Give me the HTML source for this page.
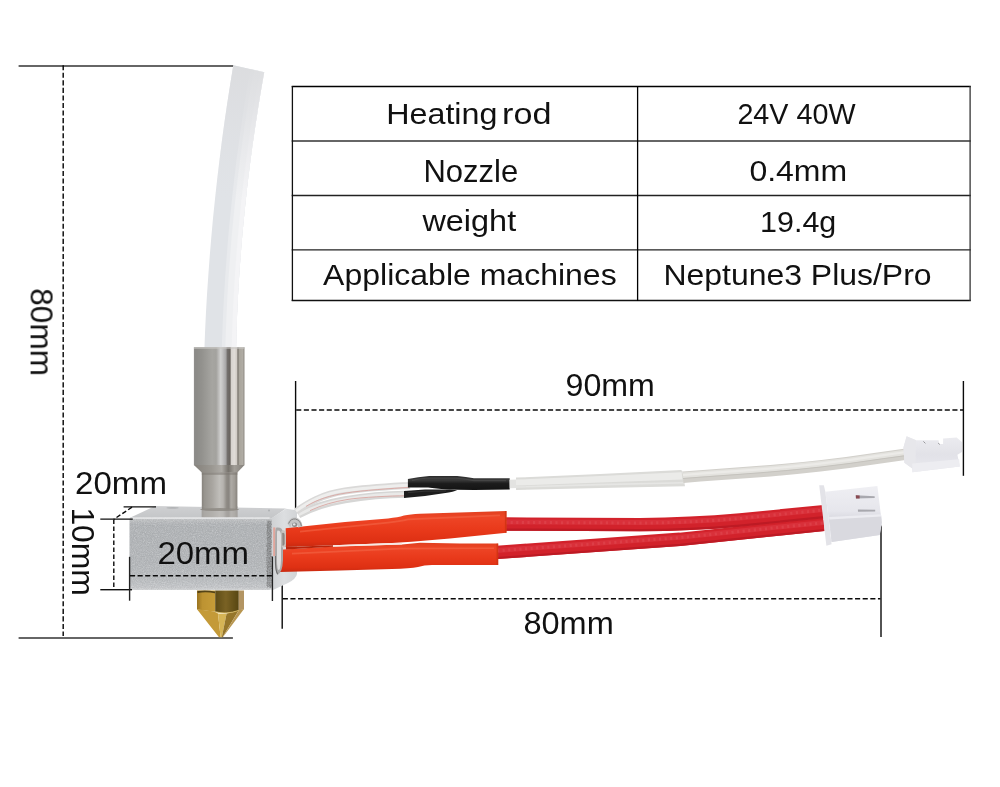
<!DOCTYPE html>
<html>
<head>
<meta charset="utf-8">
<title>Hotend dimensions</title>
<style>
html,body{margin:0;padding:0;background:#fff;}
body{width:1000px;height:787px;overflow:hidden;font-family:"Liberation Sans",sans-serif;}
svg{display:block;}
text{font-family:"Liberation Sans",sans-serif;fill:#111;}
</style>
</head>
<body>
<svg width="1000" height="787" viewBox="0 0 1000 787">
<defs>
<!-- DEFS -->
<filter id="fNoiseD" x="0" y="0" width="100%" height="100%">
  <feTurbulence type="fractalNoise" baseFrequency="0.8" numOctaves="2" seed="11" result="n"/>
  <feColorMatrix in="n" type="matrix" values="0 0 0 0 0.2  0 0 0 0 0.2  0 0 0 0 0.2  1.6 1.6 1.6 0 -2.1" result="w"/>
  <feComposite in="w" in2="SourceGraphic" operator="in"/>
</filter>
<linearGradient id="gTubeTop" gradientUnits="userSpaceOnUse" x1="0" y1="65" x2="0" y2="200">
  <stop offset="0" stop-color="#dbdcde" stop-opacity="0.9"/><stop offset="0.3" stop-color="#dcdde0" stop-opacity="0.7"/>
  <stop offset="0.7" stop-color="#dedfe2" stop-opacity="0.3"/><stop offset="1" stop-color="#e0e1e4" stop-opacity="0"/>
</linearGradient>
<linearGradient id="gSleeve" x1="0" y1="0" x2="0" y2="1">
  <stop offset="0" stop-color="#e0401f"/><stop offset="0.18" stop-color="#ee4526"/>
  <stop offset="0.5" stop-color="#e93a1b"/><stop offset="0.85" stop-color="#de3013"/>
  <stop offset="1" stop-color="#c92a10"/>
</linearGradient>
<linearGradient id="gConn" x1="0" y1="0" x2="0" y2="1">
  <stop offset="0" stop-color="#efeff3"/><stop offset="0.45" stop-color="#e6e6ec"/>
  <stop offset="0.55" stop-color="#dcdce3"/><stop offset="1" stop-color="#e4e4ea"/>
</linearGradient>
<linearGradient id="gConnS" x1="0" y1="0" x2="0" y2="1">
  <stop offset="0" stop-color="#ececf0"/><stop offset="0.5" stop-color="#e2e2e8"/><stop offset="1" stop-color="#e9e9ee"/>
</linearGradient>
<linearGradient id="gBlack" x1="0" y1="0" x2="0" y2="1">
  <stop offset="0" stop-color="#2b2b2b"/><stop offset="0.3" stop-color="#3a3a3a"/>
  <stop offset="0.55" stop-color="#1c1c1c"/><stop offset="1" stop-color="#141414"/>
</linearGradient>
<linearGradient id="gSteel" x1="0" y1="0" x2="1" y2="0">
  <stop offset="0" stop-color="#8f8e8c"/><stop offset="0.04" stop-color="#8b8a87"/>
  <stop offset="0.16" stop-color="#93928e"/><stop offset="0.36" stop-color="#a6a5a1"/>
  <stop offset="0.44" stop-color="#a3a29e"/><stop offset="0.48" stop-color="#b8b7b5"/>
  <stop offset="0.53" stop-color="#d1d1d0"/><stop offset="0.58" stop-color="#bebdbd"/>
  <stop offset="0.63" stop-color="#a7a6a6"/><stop offset="0.665" stop-color="#726e6b"/>
  <stop offset="0.715" stop-color="#69645f"/><stop offset="0.74" stop-color="#d6d2ce"/>
  <stop offset="0.80" stop-color="#e0dcd8"/><stop offset="0.85" stop-color="#cfcac4"/>
  <stop offset="0.868" stop-color="#78736c"/><stop offset="0.90" stop-color="#a9a59c"/>
  <stop offset="0.96" stop-color="#b0aca4"/><stop offset="1" stop-color="#8f8b84"/>
</linearGradient>
<linearGradient id="gSteelLow" x1="0" y1="0" x2="1" y2="0">
  <stop offset="0" stop-color="#87837d"/><stop offset="0.08" stop-color="#98958f"/>
  <stop offset="0.30" stop-color="#a9a6a1"/><stop offset="0.50" stop-color="#c0beba"/>
  <stop offset="0.60" stop-color="#b6b3af"/><stop offset="0.70" stop-color="#8e8a84"/>
  <stop offset="0.76" stop-color="#898580"/><stop offset="0.82" stop-color="#aeaba6"/>
  <stop offset="0.92" stop-color="#a09c96"/><stop offset="1" stop-color="#86827c"/>
</linearGradient>
<linearGradient id="gSteelCh" x1="0" y1="0" x2="1" y2="0">
  <stop offset="0" stop-color="#85817b"/><stop offset="0.35" stop-color="#9a9791"/>
  <stop offset="0.55" stop-color="#aeaba6"/><stop offset="0.68" stop-color="#76726c"/>
  <stop offset="0.8" stop-color="#a19d97"/><stop offset="1" stop-color="#837f79"/>
</linearGradient>
<linearGradient id="gFront" x1="0" y1="0" x2="0" y2="1">
  <stop offset="0" stop-color="#dcddde"/><stop offset="0.03" stop-color="#bdbfc1"/>
  <stop offset="0.10" stop-color="#aeb1b4"/><stop offset="0.6" stop-color="#b1b4b7"/>
  <stop offset="0.86" stop-color="#b8bbbe"/><stop offset="0.965" stop-color="#c3c5c8"/>
  <stop offset="1" stop-color="#d2d4d6"/>
</linearGradient>
<linearGradient id="gTopFace" x1="0" y1="0" x2="0" y2="1">
  <stop offset="0" stop-color="#cfd0d2"/><stop offset="1" stop-color="#c3c5c7"/>
</linearGradient>
<linearGradient id="gSide" x1="0" y1="0" x2="1" y2="0">
  <stop offset="0" stop-color="#cfd1d3"/><stop offset="0.5" stop-color="#dcdee0"/><stop offset="1" stop-color="#d2d4d6"/>
</linearGradient>
<filter id="fNoise" x="0" y="0" width="100%" height="100%">
  <feTurbulence type="fractalNoise" baseFrequency="0.9" numOctaves="2" seed="4" result="n"/>
  <feColorMatrix in="n" type="matrix" values="0 0 0 0 1  0 0 0 0 1  0 0 0 0 1  0.9 0.9 0.9 0 -1.15" result="w"/>
  <feComposite in="w" in2="SourceGraphic" operator="in"/>
</filter>
<linearGradient id="gBrassL" x1="0" y1="0" x2="1" y2="0">
  <stop offset="0" stop-color="#9a7420"/><stop offset="0.3" stop-color="#bd9332"/><stop offset="1" stop-color="#c69c38"/>
</linearGradient>
<linearGradient id="gBrassM" x1="0" y1="0" x2="1" y2="0">
  <stop offset="0" stop-color="#5d4b15"/><stop offset="0.45" stop-color="#7a6224"/><stop offset="1" stop-color="#574612"/>
</linearGradient>
<linearGradient id="gBrassCone" x1="0" y1="0" x2="1" y2="0">
  <stop offset="0" stop-color="#b48a2a"/><stop offset="0.35" stop-color="#d0a848"/>
  <stop offset="0.55" stop-color="#d9b860"/><stop offset="0.68" stop-color="#b08a30"/>
  <stop offset="0.8" stop-color="#8a6a22"/><stop offset="1" stop-color="#a8883a"/>
</linearGradient>
</defs>
<rect x="0" y="0" width="1000" height="787" fill="#ffffff"/>

<!-- TABLE -->
<g id="table" stroke="#1a1a1a" stroke-width="1.3" fill="none">
  <line x1="291.7" y1="86.5" x2="970.8" y2="86.5" stroke="#000"/>
  <line x1="291.7" y1="141" x2="970.8" y2="141" stroke="#333"/>
  <line x1="291.7" y1="195.5" x2="970.8" y2="195.5" stroke="#222"/>
  <line x1="291.7" y1="249.8" x2="970.8" y2="249.8" stroke="#222"/>
  <line x1="291.7" y1="300.5" x2="970.8" y2="300.5" stroke="#111"/>
  <line x1="292.4" y1="86" x2="292.4" y2="301" stroke="#111"/>
  <line x1="637.6" y1="86" x2="637.6" y2="301" stroke="#000"/>
  <line x1="970.1" y1="86" x2="970.1" y2="301" stroke="#333"/>
</g>

<!-- TABLETEXT -->
<g id="ttext" opacity="0.999">
<text transform="translate(386.2,123.6) scale(1.065,1)" font-size="30.3">Heating</text>
<text transform="translate(502.1,123.6) scale(1.129,1)" font-size="30.3">rod</text>
<text transform="translate(423.5,181.5) scale(1.016,1)" font-size="30.5">Nozzle</text>
<text transform="translate(422.4,231.1) scale(1.071,1)" font-size="30.3">weight</text>
<text transform="translate(323.1,285.0) scale(1.057,1)" font-size="30.3">Applicable machines</text>
<text transform="translate(737.4,124.2) scale(0.948,1)" font-size="30.3">24V 40W</text>
<text transform="translate(749.4,181.0) scale(1.056,1)" font-size="30.3">0.4mm</text>
<text transform="translate(760.1,231.7) scale(1.005,1)" font-size="30.3">19.4g</text>
<text transform="translate(663.4,285.0) scale(1.055,1)" font-size="30.3">Neptune3 Plus/Pro</text>
</g>

<!-- DIMLINES -->
<g id="dims" stroke="#0a0a0a" stroke-width="1.45" fill="none">
  <!-- 80mm overall height -->
  <line x1="18.6" y1="65.9" x2="233.5" y2="65.9" stroke="#333" stroke-width="1.5"/>
  <line x1="18.6" y1="637.9" x2="232.9" y2="637.9" stroke="#333" stroke-width="1.5"/>
  <line x1="63.2" y1="65.2" x2="63.2" y2="636" stroke-dasharray="5.1 2.45"/>
  <!-- 90mm -->
  <line x1="295.6" y1="381" x2="295.6" y2="508.5" stroke-width="1.4"/>
  <line x1="963.4" y1="381" x2="963.4" y2="475.8" stroke-width="1.4"/>
  <line x1="296.2" y1="410" x2="963" y2="410" stroke-dasharray="5.1 2.53"/>
  <!-- 80mm cable -->
  <line x1="282.2" y1="572.5" x2="282.2" y2="628.8" stroke-width="1.4"/>
  <line x1="881" y1="525.4" x2="881" y2="637" stroke-width="1.4"/>
  <line x1="282.8" y1="598.7" x2="880.5" y2="598.7" stroke-dasharray="5.1 2.53"/>
</g>

<!-- PHOTO -->
<g id="tube">
  <path d="M233.3,65.2 L230.2,84.3 L227.2,103.4 L224.4,122.6 L221.8,141.7 L219.4,160.8 L217.1,179.9 L215.0,199.0 L213.0,218.2 L211.3,237.3 L209.7,256.4 L208.3,275.5 L207.0,294.6 L205.9,313.8 L205.0,332.9 L204.3,352.0 L236.0,352.0 L236.5,333.3 L237.1,314.7 L238.0,296.0 L239.1,277.4 L240.4,258.7 L241.9,240.1 L243.6,221.4 L245.5,202.8 L247.5,184.1 L249.8,165.5 L252.3,146.8 L255.0,128.2 L257.9,109.5 L260.9,90.9 L264.2,72.2 Z" fill="#e0e3e7"/>
  <path d="M251.0,69.0 L247.7,84.3 L244.6,103.4 L241.7,122.6 L239.0,141.7 L236.4,160.8 L234.1,179.9 L232.0,199.0 L230.0,218.2 L228.2,237.3 L226.7,256.4 L225.3,275.5 L224.1,294.6 L223.1,313.8 L222.3,332.9 L221.7,352.0 L236.0,352.0 L236.5,333.3 L237.1,314.7 L238.0,296.0 L239.1,277.4 L240.4,258.7 L241.9,240.1 L243.6,221.4 L245.5,202.8 L247.5,184.1 L249.8,165.5 L252.3,146.8 L255.0,128.2 L257.9,109.5 L260.9,90.9 L264.2,72.2 Z" fill="#e8eaed"/>
  <path d="M254.5,69.8 L251.2,84.3 L248.1,103.4 L245.1,122.6 L242.4,141.7 L239.9,160.8 L237.5,179.9 L235.4,199.0 L233.4,218.2 L231.6,237.3 L230.1,256.4 L228.7,275.5 L227.5,294.6 L226.6,313.8 L225.8,332.9 L225.2,352.0 L236.0,352.0 L236.5,333.3 L237.1,314.7 L238.0,296.0 L239.1,277.4 L240.4,258.7 L241.9,240.1 L243.6,221.4 L245.5,202.8 L247.5,184.1 L249.8,165.5 L252.3,146.8 L255.0,128.2 L257.9,109.5 L260.9,90.9 L264.2,72.2 Z" fill="#eff0f2"/>
  <path d="M261.0,71.2 L257.6,84.3 L254.4,103.4 L251.4,122.6 L248.6,141.7 L246.1,160.8 L243.7,179.9 L241.5,199.0 L239.6,218.2 L237.8,237.3 L236.3,256.4 L234.9,275.5 L233.8,294.6 L232.8,313.8 L232.1,332.9 L231.5,352.0 L236.0,352.0 L236.5,333.3 L237.1,314.7 L238.0,296.0 L239.1,277.4 L240.4,258.7 L241.9,240.1 L243.6,221.4 L245.5,202.8 L247.5,184.1 L249.8,165.5 L252.3,146.8 L255.0,128.2 L257.9,109.5 L260.9,90.9 L264.2,72.2 Z" fill="#f4f4f6"/>
  <path d="M233.3,65.2 L230.2,84.5 L227.2,103.7 L224.4,123.0 L221.7,142.2 L219.3,161.5 L217.0,180.7 L214.9,200.0 L245.8,200.0 L247.8,181.7 L250.1,163.5 L252.5,145.2 L255.2,127.0 L258.0,108.7 L261.0,90.5 L264.2,72.2 Z" fill="url(#gTubeTop)"/>
</g>
<g id="steel">
  <rect x="193.9" y="347.2" width="50.6" height="118" fill="url(#gSteel)"/>
  <rect x="193.9" y="347.2" width="50.6" height="1.6" fill="#c9c7c3" opacity="0.7"/>
  <path d="M193.9,465 L244.5,465 L237.4,472.4 L201.8,472.4 Z" fill="url(#gSteelCh)"/>
  <rect x="201.8" y="472.2" width="35.6" height="45" fill="url(#gSteelLow)"/>
  <rect x="201.8" y="472.2" width="35.6" height="2.6" fill="#7b7771" opacity="0.55"/>
</g>
<g id="block">
  <path d="M129.5,518 L155.2,506 L286,508.6 L271.2,518.8 Z" fill="url(#gTopFace)"/>
  <!-- steel reflection / seat on top face -->
  <rect x="201.8" y="506.5" width="35.6" height="11.5" fill="url(#gSteelLow)"/>
  <rect x="201.8" y="509.6" width="35.6" height="8.4" fill="#b9b8b6" opacity="0.55"/>
  <ellipse cx="219.6" cy="509.6" rx="19.6" ry="1.5" fill="#8b8781" opacity="0.8"/>
  <!-- right side face -->
  <path d="M271,518.6 L286,508.8 L297,510.2 L297,574 Q296,579 288,583 L273,590 L271.4,590 Z" fill="url(#gSide)"/>
  <!-- front face -->
  <rect x="129.5" y="517.4" width="142" height="72.6" rx="2.2" ry="2.2" fill="url(#gFront)"/>
  <rect x="129.5" y="517.4" width="142" height="72.6" rx="2.2" ry="2.2" fill="#fff" filter="url(#fNoise)" opacity="0.34"/>
  <rect x="267" y="521" width="4.4" height="66" fill="#7b7d7f" opacity="0.45"/>
  <rect x="266.4" y="520.6" width="5.2" height="67" fill="#000" filter="url(#fNoiseD)" opacity="0.9"/>
  <rect x="129.5" y="517.4" width="142" height="72.6" rx="2.2" ry="2.2" fill="#000" filter="url(#fNoiseD)" opacity="0.12"/>
  <ellipse cx="172.6" cy="507.9" rx="6.2" ry="0.8" fill="#b2b4b6"/>
  <path d="M131.5,518.1 L269.5,518.1" stroke="#e9eaeb" stroke-width="1.3" fill="none"/>
  <circle cx="269" cy="510.5" r="1" fill="#aeb0b2"/>
</g>
<g id="nozzle">
  <path d="M197,590.4 L215.2,590.4 L215.2,611.8 L197,609.4 Z" fill="url(#gBrassL)"/>
  <path d="M215.2,590.4 L238.8,590.4 L238.8,610.4 Q226,614.6 215.2,611.8 Z" fill="url(#gBrassM)"/>
  <path d="M238.8,590.4 L244,590.4 L244,609.2 L238.8,610.4 Z" fill="#b39563"/>
  <path d="M197.6,591 Q206,589.6 215,591.6 L215,593.2 Q206,591.6 197.6,593 Z" fill="#3a2f10" opacity="0.8"/>
  <path d="M197,609.2 L207,610.6 Q215.4,611.4 218,613.4 L220.6,637.2 L219,637.2 Z" fill="#c49a38"/>
  <path d="M218,613.4 Q222,614 226.6,613.6 L221.8,637.2 L220.6,637.2 Z" fill="#d6b455"/>
  <path d="M226.6,613.6 Q233,612.6 238.8,610.2 L222.6,637.2 L221.8,637.2 Z" fill="#96762a"/>
  <path d="M238.8,610.2 L244,609 L222.8,637.2 L222.6,637.2 Z" fill="#b89650"/>
  <path d="M215.4,611.8 Q226,614.8 238.8,610.4" fill="none" stroke="#dcbc62" stroke-width="1" opacity="0.85"/>
</g>
<g id="thinwires" fill="none" stroke-linecap="butt">
  <path d="M298.5,515 C310,508.6 325,503.2 345,499.8 S 390,494.4 406,494.2" stroke="#d6d6d5" stroke-width="7"/>
  <path d="M298.5,514.6 C310,508.2 325,502.8 345,499.4 S 390,494 406,493.8" stroke="#e9e9e8" stroke-width="3"/>
  <path d="M296,511.5 C308,503 322,494.4 345,491 S 390,486.6 410,485.4" stroke="#dad9d8" stroke-width="7"/>
  <path d="M296,511.1 C308,502.6 322,494 345,490.6 S 390,486.2 410,485" stroke="#eeeeed" stroke-width="3"/>
  <path d="M306,506.4 C318,499 330,495.6 346,493 S 392,488.4 409,487.4" stroke="#d9a6a1" stroke-width="0.9"/>
  <path d="M310,510.6 C322,505 334,501.6 348,499.4 S 392,495.8 405,495.8" stroke="#d9a6a1" stroke-width="0.9"/>
</g>
<g id="black">
  <path d="M404,490.9 L425,489.4 L450,489.6 L457.2,490.2 Q452,492 448.8,492.4 L425,496.1 L404,497.9 Z" fill="#1d1d1d"/>
  <path d="M407.9,479 Q418,476.6 429.2,475.9 L457.2,475.9 Q466,476.6 474,478.3 L509.7,478.3 L509.7,489.5 L474,489.9 L457.2,489.8 Q440,489.4 428,487.6 L407.9,487.4 Z" fill="url(#gBlack)"/>
  <path d="M412,480.4 Q420,478.4 430,478 L456,478.2 Q466,479 474,480.6 L506,480.6" fill="none" stroke="#4c4c4c" stroke-width="1.2" opacity="0.7"/>
  <path d="M408,492.6 L425,491.2 L446,491" fill="none" stroke="#3d3d3d" stroke-width="1" opacity="0.7"/>
</g>
<g id="whitecable" fill="none" stroke-linecap="butt">
  <path d="M509.6,484 L516.5,483.8" stroke="#e3e3e1" stroke-width="8.4"/>
  <path d="M516,477.6 L600,474 L681,470.1 L682.4,471 L685,486.2 L600,488 L516,490 Z" fill="#dbdbd8" stroke="none"/>
  <path d="M516,479.6 L600,476 L681.6,472.2 L682.4,479.6 L600,482.6 L516,485.6 Z" fill="#ebebe9" stroke="none"/>
  <path d="M516,487 L600,484.6 L684.4,482.8" stroke="#e6e6e4" stroke-width="1.6"/>
  <path d="M683,477.2 L700,475.9 Q730,473.8 760,471.5 T820,465.8 T880,457.8 L906.5,454.2" stroke="#d2d0cb" stroke-width="11.4"/>
  <path d="M683,475.3 L700,474.0 Q730,471.9 760,469.6 T820,463.9 T880,455.9 L906.5,452.3" stroke="#e3e2de" stroke-width="5.6"/>
  <path d="M683,475.0 L700,473.7 Q730,471.6 760,469.3 T820,463.6 T880,455.6 L906.5,452.0" stroke="#ecebe8" stroke-width="2.2"/>
  <path d="M683,478.5 L700,477.2 Q730,475.1 760,472.8 T820,467.1 T880,459.1 L906.5,455.5" stroke="#c3c1bb" stroke-width="0.9"/>
</g>
<g id="smallconn">
  <path d="M906.6,436.2 L916.1,440.3 L938.6,440.3 L939,444 L943.1,443.9 L943.1,438.5 L956.6,437.6 L962,442.1 L962,452 L957.4,454.8 L959.8,466.4 L912.5,472.3 L912,468.2 L904.4,462.8 L903.5,447.5 Z" fill="url(#gConnS)"/>
  <path d="M906.6,436.2 L916.1,440.3 L915.4,468.6 L912,468.2 L904.4,462.8 L903.5,447.5 Z" fill="#e7e7eb"/>
  <path d="M912.2,463.6 L959.2,459.2 L959.8,466.4 L912.5,472.3 Z" fill="#ededf1"/>
  <path d="M923.4,441.4 L925.4,443.4" stroke="#8e8e92" stroke-width="0.9" fill="none"/>
  <path d="M938,443 L940,444.6" stroke="#9a9a9e" stroke-width="0.9" fill="none"/>
</g>
<g id="redcables" fill="none" stroke-linecap="butt">
  <path d="M497,552.4 L680,539.3 L824,524.4" stroke="#d2222b" stroke-width="13.4"/>
  <path d="M497,550.4 L680,537.3 L824,522.4" stroke="#d9303a" stroke-width="5"/>
  <path d="M497,558 L680,544.9 L824,530" stroke="#bd1a24" stroke-width="2.2"/>
  <path d="M505,524 L640,524.6 Q690,524.4 740,520 L824,511.6" stroke="#d2222b" stroke-width="13.4"/>
  <path d="M505,522 L640,522.6 Q690,522.4 740,518 L824,509.6" stroke="#d9303a" stroke-width="5"/>
  <path d="M505,529.6 L640,530.2 Q690,530 740,525.6 L824,517.2" stroke="#bd1a24" stroke-width="2.2"/>
  <path d="M497,550.8 L680,537.7 L824,522.8" stroke="#ee7078" stroke-width="3" stroke-dasharray="2.2 3.4" opacity="0.22"/>
  <path d="M505,522.4 L640,523 Q690,522.8 740,518.4 L824,510" stroke="#ee7078" stroke-width="3" stroke-dasharray="2.2 3.4" opacity="0.22"/>
</g>
<g id="sleeves">
  <path d="M285.7,528.3 L345,522 L388,518.4 Q398,517.6 404,515.6 Q410,514.2 420,513.8 L506.5,511 L506.5,532.8 L450,538.4 L411.6,541.8 L392,543 L340,545 L285.7,547 Z" fill="url(#gSleeve)"/>
  <path d="M279.8,549.8 L333,546.6 L402,544.4 L420,542.8 L460,543.4 L498.2,543.6 L498.2,565 L432,565 Q424,565.2 418,567 Q410,568.6 392,569 L340,570.6 L279.8,572 Z" fill="url(#gSleeve)"/>
  <path d="M286,546.9 L333,545.2 L333,546.7 L286,549.4 Z" fill="#b8240c"/>
  <path d="M333,545.2 L392,543 L402,543 L402,544.5 L333,546.7 Z" fill="#f7e9e4"/>
  <path d="M300,531.6 L388,522.6 Q400,521.4 408,519.4 L500,515.4" fill="none" stroke="#f4694a" stroke-width="1.6" opacity="0.55"/>
  <path d="M292,553.6 L400,548.6 L494,548.2" fill="none" stroke="#f4694a" stroke-width="1.6" opacity="0.55"/>
  <rect x="504.9" y="511" width="1.6" height="21.8" fill="#c9300f" opacity="0.7"/>
  <rect x="496.6" y="543.6" width="1.6" height="21.4" fill="#c9300f" opacity="0.7"/>
</g>
<g id="bigconn">
  <path d="M819.2,485.2 L823.8,485.2 L825.4,491.8 L831.6,544.2 L826.4,545.7 Z" fill="#e3e3e8"/>
  <path d="M825.3,491.8 L877.4,486 L881.8,522.8 L879.7,535 L831.6,542.1 Z" fill="url(#gConn)"/>
  <path d="M829.4,518.6 L881.2,515.6 L881.8,522.8 L879.7,535 L831.6,542.1 Z" fill="#d9d9df"/>
  <path d="M829.2,517 L881,514.2 L881.3,516.6 L829.5,519.6 Z" fill="#ececf1"/>
  <path d="M855.8,495.2 L874.7,496.2 L874.7,498 L856,498.6 Z" fill="#a9a9af"/>
  <path d="M855.8,495.2 L859.6,495.4 L859.6,498.5 L856,498.6 Z" fill="#8a4a52"/>
  <path d="M857.9,509.4 L875.2,509.8 L875.2,511.6 L858,511.8 Z" fill="#a8a8ae"/>
</g>
<g id="clamp">
  <rect x="273.2" y="527.4" width="2.2" height="28.6" fill="#e59a8c" opacity="0.8"/>
  <path d="M276.4,527.6 Q282.6,526.8 283,533 L283,560 Q282.4,573.6 277.6,574 Q274.8,573.6 275,560 L275.2,536 Q275.2,528.6 276.4,527.6 Z" fill="#a9a9a9"/>
  <path d="M277.8,530.6 Q281,530.6 281,536 L281,560 Q280.6,570 278.6,570 Q277,570 277,560 L277,536 Q276.8,530.6 277.8,530.6 Z" fill="#dedede"/>
  <path d="M275.4,556 Q275.2,572 278,574.4" fill="none" stroke="#6f6f6f" stroke-width="1.1"/>
  <path d="M281.4,531 Q285.4,528.6 285.8,533 L285.8,545 Q285,548 281.6,547.4 Z" fill="#c9c4c0"/>
  <path d="M282.2,533 Q284.4,532 284.6,535 L284.6,544 Q284,546 282.4,545.6 Z" fill="#8d8782"/>
  <path d="M287.4,523.4 Q290,516.6 296,517.6 Q302,519.6 302.6,526.6 L298,527.4 Q296.6,522.4 293.6,522.6 Q291,523.4 290.6,527.8 Z" fill="#c4c4c4"/>
  <path d="M288.6,523.6 Q290.6,518.4 295.6,519 Q300.6,520.6 301.4,526.2" fill="none" stroke="#7a7a7a" stroke-width="0.9"/>
  <ellipse cx="294.6" cy="524.8" rx="2.6" ry="2.2" fill="#8a8a8a"/>
  <ellipse cx="294.2" cy="524.4" rx="1.4" ry="1.1" fill="#e4e4e4"/>
</g>

<!-- LABELS -->
<g id="labels" opacity="0.999">
<text transform="translate(565.5,396.4) scale(1.031,1)" font-size="31.2">90mm</text>
<text transform="translate(523.4,634.3) scale(1.043,1)" font-size="31.2">80mm</text>
<text transform="translate(75.1,493.9) scale(1.060,1)" font-size="31.2">20mm</text>
<text transform="translate(157.4,564.0) scale(1.058,1)" font-size="31.2">20mm</text>
<text transform="translate(30.6,288.2) rotate(90) scale(0.996,1)" font-size="31.8">80mm</text>
<text transform="translate(71.5,507.4) rotate(90) scale(1.010,1)" font-size="31.5">10mm</text>
</g>
<g id="dims2" stroke="#0a0a0a" stroke-width="1.4" fill="none">
  <!-- 10mm -->
  <line x1="100.3" y1="519.1" x2="132.8" y2="519.1" stroke="#111"/>
  <line x1="100.3" y1="589.7" x2="132" y2="589.7" stroke="#111"/>
  <line x1="113.8" y1="519.5" x2="113.8" y2="589.5" stroke-dasharray="4.6 2.4"/>
  <!-- 20mm depth -->
  <line x1="123.6" y1="506.9" x2="156" y2="506.9" stroke="#111"/>
  <line x1="132" y1="507.2" x2="113.8" y2="519.3" stroke-dasharray="4.6 2.4"/>
  <!-- 20mm width -->
  <line x1="129.6" y1="556.8" x2="129.6" y2="600.7" stroke="#222"/>
  <line x1="272.4" y1="556.5" x2="272.4" y2="601" stroke="#222"/>
  <line x1="130" y1="575.8" x2="272" y2="575.8" stroke-dasharray="5.1 2.5"/>
</g>

</svg>
</body>
</html>
